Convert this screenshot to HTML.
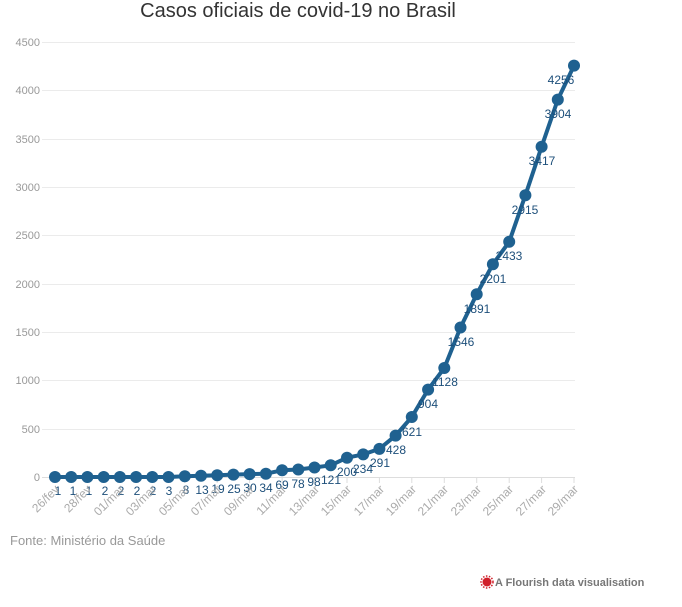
<!DOCTYPE html>
<html><head><meta charset="utf-8"><style>
body{margin:0;background:#fff;width:682px;height:602px;overflow:hidden;font-family:"Liberation Sans",sans-serif}
</style></head><body>
<svg width="682" height="602" xmlns="http://www.w3.org/2000/svg" font-family="Liberation Sans, sans-serif">
<text x="298" y="17" font-size="20" fill="#333" text-anchor="middle">Casos oficiais de covid-19 no Brasil</text>
<g stroke="#ebebeb" stroke-width="1">
<line x1="42" x2="575" y1="42.5" y2="42.5"/><line x1="42" x2="575" y1="90.5" y2="90.5"/><line x1="42" x2="575" y1="139.5" y2="139.5"/><line x1="42" x2="575" y1="187.5" y2="187.5"/><line x1="42" x2="575" y1="235.5" y2="235.5"/><line x1="42" x2="575" y1="284.5" y2="284.5"/><line x1="42" x2="575" y1="332.5" y2="332.5"/><line x1="42" x2="575" y1="380.5" y2="380.5"/><line x1="42" x2="575" y1="429.5" y2="429.5"/>
</g>
<line x1="42" x2="575" y1="477.5" y2="477.5" stroke="#ddd"/>
<g stroke="#ddd">
<line x1="55" x2="55" y1="478" y2="483"/><line x1="87.4" x2="87.4" y1="478" y2="483"/><line x1="119.9" x2="119.9" y1="478" y2="483"/><line x1="152.3" x2="152.3" y1="478" y2="483"/><line x1="184.8" x2="184.8" y1="478" y2="483"/><line x1="217.2" x2="217.2" y1="478" y2="483"/><line x1="249.6" x2="249.6" y1="478" y2="483"/><line x1="282.1" x2="282.1" y1="478" y2="483"/><line x1="314.5" x2="314.5" y1="478" y2="483"/><line x1="347" x2="347" y1="478" y2="483"/><line x1="379.4" x2="379.4" y1="478" y2="483"/><line x1="411.8" x2="411.8" y1="478" y2="483"/><line x1="444.3" x2="444.3" y1="478" y2="483"/><line x1="476.7" x2="476.7" y1="478" y2="483"/><line x1="509.2" x2="509.2" y1="478" y2="483"/><line x1="541.6" x2="541.6" y1="478" y2="483"/><line x1="574" x2="574" y1="478" y2="483"/>
</g>
<g font-size="11" fill="#999" text-anchor="end">
<text x="40" y="46">4500</text><text x="40" y="94">4000</text><text x="40" y="143">3500</text><text x="40" y="191">3000</text><text x="40" y="239">2500</text><text x="40" y="288">2000</text><text x="40" y="336">1500</text><text x="40" y="384">1000</text><text x="40" y="433">500</text><text x="40" y="481">0</text>
</g>
<polyline fill="none" stroke="#1f6190" stroke-width="4" stroke-linejoin="round" points="55,477 71.2,477 87.4,477 103.7,477 119.9,477 136.1,477 152.3,477 168.5,477 184.8,476.2 201,475.7 217.2,475.2 233.4,474.6 249.6,474.1 265.9,473.7 282.1,470.3 298.3,469.5 314.5,467.5 330.7,465.3 347,457.7 363.2,454.4 379.4,448.9 395.6,435.6 411.8,417 428.1,389.6 444.3,368 460.5,327.5 476.7,294.2 492.9,264.2 509.2,241.8 525.4,195.2 541.6,146.7 557.8,99.6 574,65.6"/>
<g fill="#1f6190">
<circle cx="55" cy="477" r="6"/><circle cx="71.2" cy="477" r="6"/><circle cx="87.4" cy="477" r="6"/><circle cx="103.7" cy="477" r="6"/><circle cx="119.9" cy="477" r="6"/><circle cx="136.1" cy="477" r="6"/><circle cx="152.3" cy="477" r="6"/><circle cx="168.5" cy="477" r="6"/><circle cx="184.8" cy="476.2" r="6"/><circle cx="201" cy="475.7" r="6"/><circle cx="217.2" cy="475.2" r="6"/><circle cx="233.4" cy="474.6" r="6"/><circle cx="249.6" cy="474.1" r="6"/><circle cx="265.9" cy="473.7" r="6"/><circle cx="282.1" cy="470.3" r="6"/><circle cx="298.3" cy="469.5" r="6"/><circle cx="314.5" cy="467.5" r="6"/><circle cx="330.7" cy="465.3" r="6"/><circle cx="347" cy="457.7" r="6"/><circle cx="363.2" cy="454.4" r="6"/><circle cx="379.4" cy="448.9" r="6"/><circle cx="395.6" cy="435.6" r="6"/><circle cx="411.8" cy="417" r="6"/><circle cx="428.1" cy="389.6" r="6"/><circle cx="444.3" cy="368" r="6"/><circle cx="460.5" cy="327.5" r="6"/><circle cx="476.7" cy="294.2" r="6"/><circle cx="492.9" cy="264.2" r="6"/><circle cx="509.2" cy="241.8" r="6"/><circle cx="525.4" cy="195.2" r="6"/><circle cx="541.6" cy="146.7" r="6"/><circle cx="557.8" cy="99.6" r="6"/><circle cx="574" cy="65.6" r="6"/>
</g>
<g font-size="12" fill="#1d4f7a" text-anchor="middle">
<text x="58" y="495">1</text><text x="73" y="495">1</text><text x="89" y="495">1</text><text x="105" y="495">2</text><text x="121" y="495">2</text><text x="137" y="495">2</text><text x="153" y="495">2</text><text x="169" y="495">3</text><text x="186" y="494">8</text><text x="202" y="494">13</text><text x="218" y="493">19</text><text x="234" y="493">25</text><text x="250" y="492">30</text><text x="266" y="492">34</text><text x="282" y="489">69</text><text x="298" y="488">78</text><text x="314" y="486">98</text><text x="331" y="484">121</text><text x="347" y="476">200</text><text x="363" y="473">234</text><text x="380" y="467">291</text><text x="396" y="454">428</text><text x="412" y="436">621</text><text x="428" y="408">904</text><text x="445" y="386">1128</text><text x="461" y="346">1546</text><text x="477" y="313">1891</text><text x="493" y="283">2201</text><text x="509" y="260">2433</text><text x="525" y="214">2915</text><text x="542" y="165">3417</text><text x="558" y="118">3904</text><text x="561" y="84">4256</text>
</g>
<g font-size="12" fill="#aaa" text-anchor="end">
<text transform="translate(60,490) rotate(-45)">26/fev</text>
<text transform="translate(92,490) rotate(-45)">28/fev</text>
<text transform="translate(125,490) rotate(-45)">01/mar</text>
<text transform="translate(157,490) rotate(-45)">03/mar</text>
<text transform="translate(190,490) rotate(-45)">05/mar</text>
<text transform="translate(222,490) rotate(-45)">07/mar</text>
<text transform="translate(255,490) rotate(-45)">09/mar</text>
<text transform="translate(287,490) rotate(-45)">11/mar</text>
<text transform="translate(320,490) rotate(-45)">13/mar</text>
<text transform="translate(352,490) rotate(-45)">15/mar</text>
<text transform="translate(385,490) rotate(-45)">17/mar</text>
<text transform="translate(417,490) rotate(-45)">19/mar</text>
<text transform="translate(449,490) rotate(-45)">21/mar</text>
<text transform="translate(482,490) rotate(-45)">23/mar</text>
<text transform="translate(514,490) rotate(-45)">25/mar</text>
<text transform="translate(547,490) rotate(-45)">27/mar</text>
<text transform="translate(579,490) rotate(-45)">29/mar</text>
</g>
<text x="10" y="545" font-size="13" fill="#999">Fonte: Ministério da Saúde</text>
<circle cx="487" cy="582" r="4.5" fill="#d0202a"/>
<circle cx="487" cy="582" r="6" fill="none" stroke="#d0202a" stroke-width="1.5" stroke-dasharray="1.5 1.5"/>
<text x="495" y="586" font-size="11" font-weight="bold" fill="#777">A Flourish data visualisation</text>
</svg>
</body></html>
